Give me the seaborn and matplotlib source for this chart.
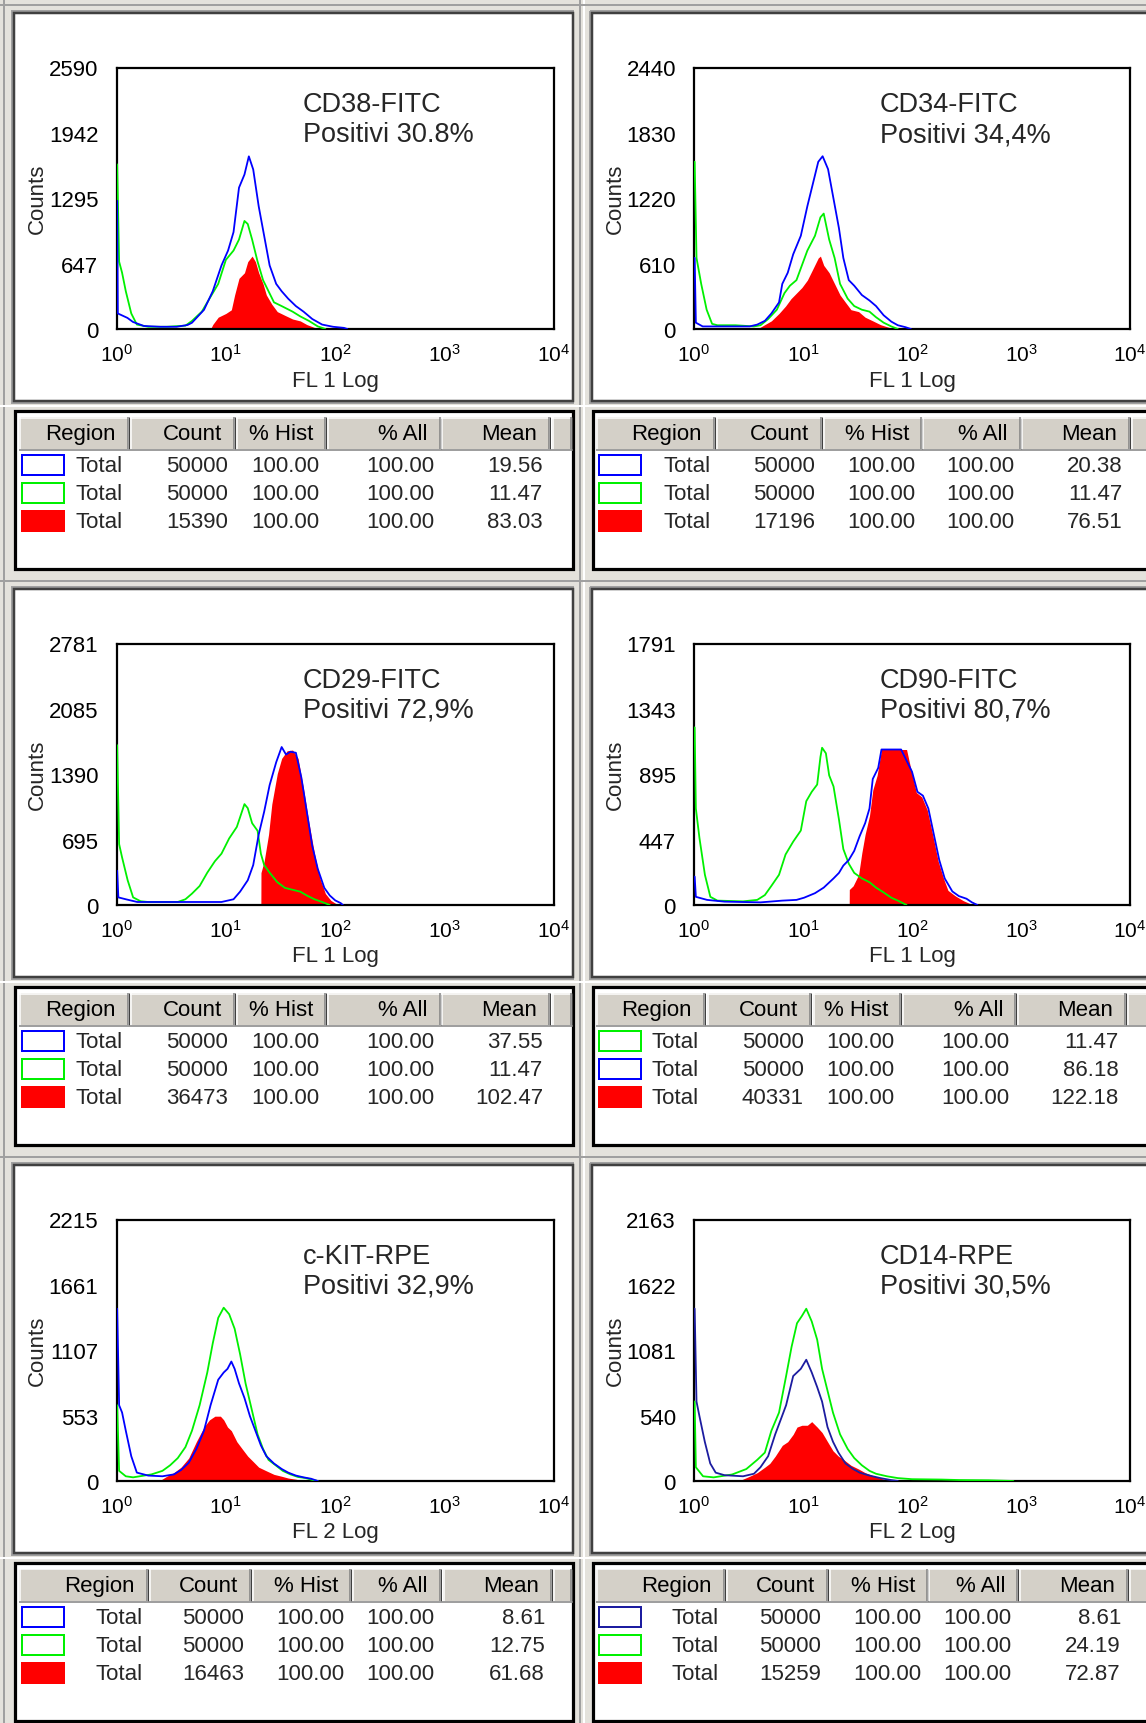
import numpy as np
import matplotlib
matplotlib.use("Agg")
import matplotlib.pyplot as plt
from matplotlib.patches import Rectangle
from matplotlib.ticker import NullLocator
import seaborn as sns

# ---------------- data ----------------
markers = ["CD38-FITC", "CD34-FITC", "CD29-FITC", "CD90-FITC", "c-KIT-RPE", "CD14-RPE"]
positive = ["Positivi 30.8%", "Positivi 34,4%", "Positivi 72,9%",
            "Positivi 80,7%", "Positivi 32,9%", "Positivi 30,5%"]
channel_labels = ["FL 1 Log", "FL 1 Log", "FL 1 Log", "FL 1 Log", "FL 2 Log", "FL 2 Log"]
y_ticks = [[0, 647, 1295, 1942, 2590],
           [0, 610, 1220, 1830, 2440],
           [0, 695, 1390, 2085, 2781],
           [0, 447, 895, 1343, 1791],
           [0, 553, 1107, 1661, 2215],
           [0, 540, 1081, 1622, 2163]]
x_tick_labels = [r"10$^{0}$", r"10$^{1}$", r"10$^{2}$", r"10$^{3}$", r"10$^{4}$"]

# histogram outlines: x in decades (log10 of fluorescence), y in counts
cd38_blue_x = [0.0, 0.006, 0.012, 0.05, 0.10, 0.15, 0.25, 0.40, 0.55, 0.65, 0.69, 0.80, 0.88, 0.96, 1.02,
               1.07, 1.12, 1.17, 1.21, 1.25, 1.30, 1.35, 1.40, 1.46, 1.51, 1.57, 1.64, 1.71, 1.79, 1.88,
               1.98, 2.08, 2.11]
cd38_blue_y = [1270, 1270, 154, 135, 110, 70, 30, 22, 22, 40, 62, 190, 374, 630, 777, 960, 1400, 1530,
               1710, 1580, 1216, 923, 630, 447, 374, 300, 227, 172, 99, 44, 22, 11, 0]
cd38_green_x = [0.0, 0.006, 0.024, 0.051, 0.085, 0.135, 0.186, 0.29, 0.46, 0.63, 0.69, 0.78, 0.86, 0.93,
                1.00, 1.07, 1.12, 1.17, 1.20, 1.24, 1.29, 1.34, 1.39, 1.44, 1.51, 1.61, 1.68, 1.76, 1.84, 1.91]
cd38_green_y = [1630, 1630, 667, 557, 374, 154, 44, 22, 22, 33, 80, 172, 319, 447, 685, 777, 886, 1070,
                1040, 886, 667, 484, 374, 264, 227, 172, 125, 80, 26, 0]
cd38_red_x = [0.86, 0.88, 0.93, 1.00, 1.05, 1.08, 1.12, 1.17, 1.20, 1.24, 1.27, 1.30, 1.34, 1.37, 1.42,
              1.47, 1.54, 1.61, 1.68, 1.74, 1.81, 1.84]
cd38_red_y = [0, 44, 117, 154, 190, 337, 502, 557, 667, 722, 667, 557, 447, 337, 245, 172, 135, 99, 80,
              44, 15, 0]

cd34_blue_x = [0.0, 0.006, 0.017, 0.08, 0.51, 0.58, 0.65, 0.71, 0.78, 0.81, 0.86, 0.91, 0.98, 1.04, 1.09,
               1.14, 1.18, 1.23, 1.28, 1.33, 1.37, 1.42, 1.47, 1.54, 1.61, 1.67, 1.74, 1.81, 1.87, 1.94, 1.99]
cd34_blue_y = [663, 663, 59, 24, 24, 41, 76, 145, 248, 421, 525, 697, 870, 1146, 1353, 1560, 1612, 1491,
               1215, 939, 663, 456, 404, 317, 266, 214, 128, 69, 35, 17, 0]
cd34_green_x = [0.0, 0.006, 0.023, 0.066, 0.116, 0.166, 0.215, 0.38, 0.55, 0.61, 0.68, 0.76, 0.83, 0.88,
                0.94, 0.99, 1.04, 1.11, 1.16, 1.19, 1.24, 1.29, 1.34, 1.41, 1.47, 1.54, 1.61, 1.67, 1.74,
                1.81, 1.87]
cd34_green_y = [1560, 1560, 663, 421, 180, 48, 35, 35, 24, 35, 93, 180, 335, 404, 456, 594, 732, 870, 1042,
                1077, 835, 663, 421, 283, 214, 180, 162, 110, 59, 24, 0]
cd34_red_x = [0.58, 0.65, 0.71, 0.78, 0.84, 0.89, 0.94, 0.99, 1.04, 1.09, 1.14, 1.16, 1.19, 1.24, 1.29,
              1.34, 1.39, 1.44, 1.51, 1.57, 1.64, 1.71, 1.77, 1.84]
cd34_red_y = [0, 41, 76, 145, 214, 283, 335, 387, 456, 559, 663, 680, 594, 525, 421, 317, 248, 180, 162,
              110, 76, 41, 21, 0]

cd29_blue_x = [0.0, 0.006, 0.017, 0.085, 0.19, 0.96, 1.07, 1.13, 1.20, 1.25, 1.30, 1.35, 1.40, 1.46, 1.51,
               1.55, 1.59, 1.64, 1.69, 1.74, 1.79, 1.84, 1.90, 1.95, 2.00, 2.05, 2.07]
cd29_blue_y = [364, 364, 81, 61, 32, 32, 61, 142, 263, 425, 749, 992, 1275, 1518, 1680, 1600, 1630, 1619,
               1356, 992, 627, 385, 182, 101, 49, 20, 0]
cd29_green_x = [0.0, 0.006, 0.024, 0.051, 0.102, 0.152, 0.22, 0.29, 0.56, 0.63, 0.69, 0.76, 0.83, 0.90,
                0.96, 1.03, 1.10, 1.17, 1.20, 1.24, 1.29, 1.32, 1.35, 1.40, 1.47, 1.54, 1.61, 1.68, 1.74,
                1.81, 1.88, 1.95]
cd29_green_y = [1700, 1700, 648, 506, 263, 81, 40, 32, 32, 61, 121, 202, 344, 466, 546, 708, 830, 1073,
                1030, 870, 789, 546, 425, 344, 243, 182, 162, 142, 101, 61, 32, 0]
cd29_red_x = [1.32, 1.321, 1.35, 1.39, 1.42, 1.47, 1.51, 1.56, 1.61, 1.66, 1.71, 1.76, 1.81, 1.86, 1.91,
              1.96, 2.01, 2.03]
cd29_red_y = [0, 344, 466, 749, 1073, 1397, 1559, 1640, 1648, 1559, 1235, 870, 546, 283, 121, 49, 12, 0]

cd90_green_x = [0.0, 0.006, 0.017, 0.05, 0.10, 0.15, 0.215, 0.45, 0.58, 0.65, 0.71, 0.78, 0.84, 0.91,
                0.98, 1.03, 1.08, 1.13, 1.16, 1.175, 1.21, 1.24, 1.28, 1.33, 1.37, 1.42, 1.47, 1.54, 1.61,
                1.67, 1.74, 1.81, 1.87, 1.95]
cd90_green_y = [1216, 1216, 661, 459, 207, 56, 30, 25, 35, 68, 131, 207, 346, 434, 510, 711, 775, 825,
                1014, 1077, 1039, 888, 812, 585, 383, 283, 220, 182, 156, 119, 86, 50, 30, 0]
cd90_blue_x = [0.0, 0.006, 0.017, 0.12, 0.28, 0.61, 0.81, 0.94, 1.01, 1.11, 1.19, 1.28, 1.33, 1.37, 1.42,
               1.47, 1.52, 1.57, 1.61, 1.64, 1.69, 1.72, 1.77, 1.84, 1.90, 1.95, 2.00, 2.05, 2.10, 2.15,
               2.20, 2.25, 2.30, 2.37, 2.43, 2.50, 2.55, 2.60]
cd90_blue_y = [194, 194, 56, 35, 23, 18, 30, 35, 50, 81, 119, 182, 220, 270, 308, 371, 472, 560, 661, 863,
               939, 1065, 1065, 1065, 1065, 989, 913, 775, 749, 661, 484, 308, 182, 93, 61, 43, 18, 0]
cd90_red_x = [1.424, 1.425, 1.46, 1.51, 1.54, 1.57, 1.61, 1.64, 1.68, 1.72, 1.84, 1.95, 1.99, 2.04, 2.09,
              2.14, 2.19, 2.24, 2.29, 2.33, 2.40, 2.47, 2.53, 2.57]
cd90_red_y = [0, 106, 131, 207, 358, 484, 611, 787, 888, 1065, 1065, 1065, 930, 770, 740, 650, 480, 300,
              180, 100, 61, 30, 10, 0]

ckit_blue_x = [0.0, 0.006, 0.024, 0.051, 0.085, 0.135, 0.186, 0.29, 0.42, 0.525, 0.59, 0.66, 0.73, 0.80,
               0.86, 0.93, 0.98, 1.015, 1.05, 1.08, 1.12, 1.17, 1.22, 1.27, 1.32, 1.37, 1.44, 1.51, 1.57,
               1.64, 1.71, 1.78, 1.84]
ckit_blue_y = [1459, 1459, 642, 580, 426, 210, 71, 46, 40, 56, 93, 154, 271, 426, 642, 858, 919, 950,
               1012, 950, 827, 703, 549, 426, 302, 210, 148, 102, 71, 46, 31, 19, 0]
ckit_green_x = [0.0, 0.006, 0.024, 0.085, 0.152, 0.32, 0.42, 0.49, 0.56, 0.63, 0.69, 0.76, 0.83, 0.88,
                0.93, 0.98, 1.03, 1.08, 1.13, 1.18, 1.235, 1.29, 1.34, 1.39, 1.455, 1.52, 1.59, 1.66,
                1.73, 1.79, 1.84]
ckit_green_y = [642, 642, 86, 40, 31, 56, 86, 133, 194, 287, 426, 642, 919, 1166, 1382, 1468, 1413, 1290,
                1074, 827, 611, 395, 271, 179, 133, 86, 56, 34, 25, 9, 0]
ckit_red_x = [0.39, 0.46, 0.525, 0.59, 0.66, 0.73, 0.80, 0.85, 0.90, 0.95, 0.98, 1.015, 1.05, 1.10, 1.15,
              1.20, 1.25, 1.30, 1.37, 1.44, 1.51, 1.57, 1.64, 1.71]
ckit_red_y = [0, 40, 71, 117, 194, 333, 457, 518, 549, 549, 518, 457, 426, 333, 271, 210, 164, 117, 86,
              56, 40, 25, 15, 0]

cd14_blue_x = [0.0, 0.006, 0.023, 0.05, 0.099, 0.149, 0.199, 0.28, 0.45, 0.55, 0.61, 0.68, 0.745, 0.795,
               0.845, 0.91, 0.98, 1.03, 1.08, 1.13, 1.175, 1.225, 1.275, 1.325, 1.39, 1.46, 1.52, 1.61,
               1.71, 1.80, 1.87]
cd14_blue_y = [1425, 1425, 657, 536, 325, 145, 69, 48, 39, 60, 114, 205, 386, 506, 627, 868, 928, 1003,
               898, 777, 657, 446, 325, 235, 145, 99, 69, 45, 24, 9, 0]
cd14_green_x = [0.0, 0.006, 0.017, 0.083, 0.18, 0.35, 0.48, 0.58, 0.65, 0.71, 0.78, 0.845, 0.895, 0.945,
                0.99, 1.03, 1.08, 1.13, 1.175, 1.225, 1.275, 1.34, 1.41, 1.47, 1.54, 1.61, 1.67, 1.77,
                1.87, 2.00, 2.27, 2.43, 2.70, 2.93]
cd14_green_y = [657, 657, 114, 39, 30, 54, 99, 175, 235, 416, 566, 868, 1109, 1305, 1365, 1425, 1320,
                1169, 928, 747, 566, 386, 265, 190, 130, 84, 60, 39, 24, 15, 12, 8, 6, 0]
cd14_red_x = [0.41, 0.51, 0.58, 0.65, 0.695, 0.745, 0.81, 0.86, 0.91, 0.945, 0.99, 1.04, 1.08, 1.13,
              1.175, 1.225, 1.275, 1.325, 1.375, 1.44, 1.51, 1.57, 1.64, 1.705, 1.77, 1.80]
cd14_red_y = [0, 39, 69, 114, 145, 205, 295, 325, 386, 446, 461, 461, 491, 446, 401, 325, 250, 205, 175,
              130, 99, 69, 45, 24, 9, 0]

# statistics tables (row order as listed in each table)
table_styles = [["blue", "green", "red"], ["blue", "green", "red"], ["blue", "green", "red"],
                ["green", "blue", "red"], ["blue", "green", "red"], ["blue", "green", "red"]]
table_counts = [[50000, 50000, 15390], [50000, 50000, 17196], [50000, 50000, 36473],
                [50000, 50000, 40331], [50000, 50000, 16463], [50000, 50000, 15259]]
table_pct_hist = [[100.00] * 3 for _ in range(6)]
table_pct_all = [[100.00] * 3 for _ in range(6)]
table_means = [[19.56, 11.47, 83.03], [20.38, 11.47, 76.51], [37.55, 11.47, 102.47],
               [11.47, 86.18, 122.18], [8.61, 12.75, 61.68], [8.61, 24.19, 72.87]]
header = ["Region", "Count", "% Hist", "% All", "Mean"]

curves = [
    (cd38_blue_x, cd38_blue_y, cd38_green_x, cd38_green_y, cd38_red_x, cd38_red_y),
    (cd34_blue_x, cd34_blue_y, cd34_green_x, cd34_green_y, cd34_red_x, cd34_red_y),
    (cd29_blue_x, cd29_blue_y, cd29_green_x, cd29_green_y, cd29_red_x, cd29_red_y),
    (cd90_blue_x, cd90_blue_y, cd90_green_x, cd90_green_y, cd90_red_x, cd90_red_y),
    (ckit_blue_x, ckit_blue_y, ckit_green_x, ckit_green_y, ckit_red_x, ckit_red_y),
    (cd14_blue_x, cd14_blue_y, cd14_green_x, cd14_green_y, cd14_red_x, cd14_red_y),
]

# ---------------- layout (pixels of the 1146x1724 canvas) ----------------
W, H = 1146, 1724
row_off = [0, 576, 1152]
win_x = [(14, 573), (592, 1160)]
axes_x = [(116.5, 554), (694, 1130)]
note_x = [303, 880]
counts_x = [37, 615]
# header cell edges per panel, and x of the "Total" text
cells = [
    [(19, 128), (130, 234), (236, 325), (327, 440), (441, 549), (552, 571)],
    [(596, 714), (716, 821), (823, 921), (922, 1020), (1021, 1129), (1131, 1160)],
    [(19, 128), (130, 234), (236, 325), (327, 440), (441, 549), (552, 571)],
    [(596, 704), (707, 810), (813, 900), (902, 1015), (1017, 1125), (1127, 1160)],
    [(19, 147), (149, 250), (252, 350), (352, 440), (443, 551), (553, 571)],
    [(596, 724), (726, 827), (829, 927), (928, 1017), (1019, 1127), (1129, 1160)],
]
total_x = [76, 663, 76, 652, 95, 672]

sns.set_style("white")
plt.rcParams["font.family"] = ["Liberation Sans", "DejaVu Sans"]
plt.rcParams["mathtext.fontset"] = "custom"
plt.rcParams["mathtext.rm"] = "Liberation Sans"
plt.rcParams["mathtext.it"] = "Liberation Sans:italic"
plt.rcParams["mathtext.bf"] = "Liberation Sans:bold"

FS = 16
TICK_FS = 15
PX = 0.72  # points per pixel at dpi 100
colors = {"blue": "#0000ff", "green": "#00f000", "red": "#ff0000"}

fig = plt.figure(figsize=(W / 100, H / 100), dpi=100)
fig.patch.set_facecolor("#e4e2dc")
bg = fig.add_axes([0, 0, 1, 1])
bg.set_xlim(0, W)
bg.set_ylim(H, 0)
bg.axis("off")


def box(x0, y0, x1, y1, face, edge="none", lw=0.0, z=1):
    bg.add_patch(Rectangle((x0, y0), x1 - x0, y1 - y0, facecolor=face,
                           edgecolor=edge, linewidth=lw, zorder=z))


def hline(x0, x1, y, c, lw=1.0, z=2):
    bg.plot([x0, x1], [y, y], color=c, lw=lw * PX, zorder=z, solid_capstyle="butt")


def vline(x, y0, y1, c, lw=1.0, z=2):
    bg.plot([x, x], [y0, y1], color=c, lw=lw * PX, zorder=z, solid_capstyle="butt")


# window chrome between panels
vline(4, 0, H, "#a0a0a0", 2)
vline(580, 0, H, "#a0a0a0", 2)
vline(584, 0, H, "#ffffff", 2)
for oy in row_off:
    hline(0, W, oy + 6, "#a0a0a0", 2)
    hline(0, W, oy + 407, "#ffffff", 2)

for p in range(6):
    col, row = p % 2, p // 2
    oy = row_off[row]
    wx0, wx1 = win_x[col]

    # plot window (sunken frame)
    box(wx0 - 2, oy + 12, wx1, oy + 404, "none", "#a0a0a0", 2 * PX, z=1)
    box(wx0, oy + 14, wx1, oy + 402, "white", "#404040", 2.5 * PX, z=1)

    # statistics table
    t0, t1 = oy + 412, oy + 570
    box(wx0 + 1, t0, wx1, t1, "white", "black", 3.2 * PX, z=1)
    hy0, hy1 = oy + 418, oy + 450
    for j, (a, b) in enumerate(cells[p]):
        box(a, hy0, b, hy1, "#d4d0c8", z=2)
        vline(a + 0.5, hy0, hy1, "#ffffff", 1.5, z=3)
        hline(a, b, hy0 + 0.5, "#ffffff", 1.5, z=3)
        vline(b - 0.5, hy0, hy1, "#808080", 1.5, z=3)
        vline(b + 1, hy0, hy1, "#404040", 1, z=3)
        if j < len(header):
            bg.text(b - 12, (hy0 + hy1) / 2 + 1, header[j], ha="right", va="center",
                    fontsize=FS, color="black", zorder=4)
    hline(cells[p][0][0], wx1, hy1 + 1, "#808080", 1.5, z=3)

    sx0 = cells[p][0][0] + 2
    for i in range(3):
        cy = oy + 466 + 28 * i
        style = table_styles[p][i]
        c = colors[style]
        if p == 5 and style == "blue":
            c = "#1c1ca0"
        if style == "red":
            box(sx0, cy - 11, sx0 + 44, cy + 11, c, z=3)
        else:
            box(sx0 + 1, cy - 10, sx0 + 43, cy + 10, "white", c, 2 * PX, z=3)
        vals = ["{:d}".format(table_counts[p][i]), "{:.2f}".format(table_pct_hist[p][i]),
                "{:.2f}".format(table_pct_all[p][i]), "{:.2f}".format(table_means[p][i])]
        bg.text(total_x[p], cy + 1, "Total", ha="left", va="center", fontsize=FS, zorder=4)
        for j, v in enumerate(vals):
            bg.text(cells[p][j + 1][1] - 6, cy + 1, v, ha="right", va="center",
                    fontsize=FS, zorder=4)

    # histogram axes
    ax0, ax1 = axes_x[col]
    top, bot = oy + 68.5, oy + 330
    ax = fig.add_axes([ax0 / W, 1 - bot / H, (ax1 - ax0) / W, (bot - top) / H])
    ax.set_facecolor("white")
    ax.set_zorder(5)
    bx, by, gx, gy, rx, ry = curves[p]
    blue_c = "#1c1ca0" if p == 5 else colors["blue"]
    ax.fill_between(np.power(10.0, rx), ry, 0, color=colors["red"], lw=0, zorder=2)
    sns.lineplot(x=np.power(10.0, gx), y=gy, ax=ax, color=colors["green"], lw=1.3,
                 estimator=None, sort=False, zorder=3)
    sns.lineplot(x=np.power(10.0, bx), y=by, ax=ax, color=blue_c, lw=1.3,
                 estimator=None, sort=False, zorder=4)
    ax.set_xscale("log")
    ax.set_xlim(1, 1e4)
    ax.set_ylim(0, y_ticks[p][-1])
    ax.set_xticks([1, 10, 100, 1000, 10000])
    ax.set_xticklabels(x_tick_labels)
    ax.xaxis.set_minor_locator(NullLocator())
    ax.set_yticks(y_ticks[p])
    ax.set_yticklabels([str(v) for v in y_ticks[p]])
    ax.tick_params(axis="both", direction="out", length=8, width=1.3, color="black",
                   labelsize=TICK_FS, labelcolor="black")
    ax.tick_params(axis="x", pad=2)
    ax.tick_params(axis="y", pad=5, labelsize=FS)
    ax.set_xlabel("")
    ax.set_ylabel("")
    for s in ax.spines.values():
        s.set_visible(True)
        s.set_color("black")
        s.set_linewidth(1.6)

    bg.text((ax0 + ax1) / 2, oy + 381, channel_labels[p], ha="center", va="center",
            fontsize=FS, zorder=4)
    bg.text(counts_x[col], oy + 199, "Counts", rotation=90, ha="center", va="center",
            fontsize=FS, zorder=4)
    # marker annotation sits above the histogram axes
    fig.text(note_x[col] / W, 1 - (oy + 105) / H, markers[p], ha="left", va="center",
             fontsize=19.5, zorder=10)
    fig.text(note_x[col] / W, 1 - (oy + 135) / H, positive[p], ha="left", va="center",
             fontsize=19.5, zorder=10)

fig.savefig("out.png", dpi=100)
